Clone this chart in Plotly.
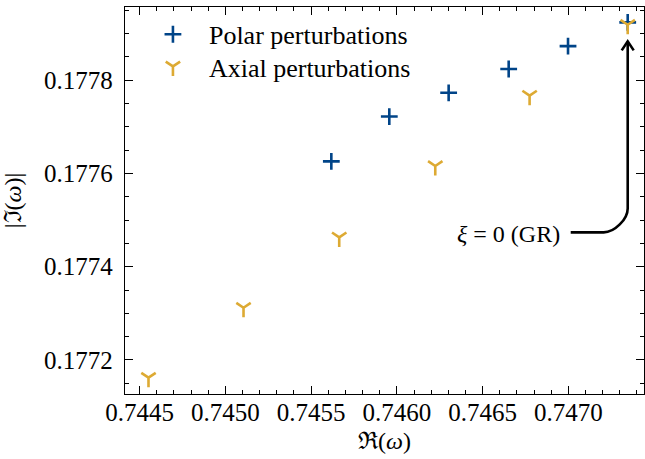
import plotly.graph_objects as go

# ---- data ----
polar_re = [0.745618, 0.745956, 0.746302, 0.746652, 0.746998, 0.747346]
polar_im = [0.177626, 0.177722, 0.177773, 0.177824, 0.177873, 0.177924]
axial_re = [0.744552, 0.745106, 0.745664, 0.746224, 0.746774, 0.747346]
axial_im = [0.177162, 0.177312, 0.177463, 0.177616, 0.177767, 0.177919]

x_ticks = [0.7445, 0.7450, 0.7455, 0.7460, 0.7465, 0.7470]
y_ticks = [0.1772, 0.1774, 0.1776, 0.1778]

X_RANGE = [0.744415, 0.747441]
Y_RANGE = [0.177127, 0.177957]

BLUE = "#004488"
GOLD = "#DDAA33"
FONT = "Liberation Serif"

W, H = 645, 459
ML, MR, MT, MB = 125, 1, 7, 65
PW, PH = W - ML - MR, H - MT - MB
dxpp = (X_RANGE[1] - X_RANGE[0]) / PW
dypp = (Y_RANGE[1] - Y_RANGE[0]) / PH

fig = go.Figure()
fig.add_trace(go.Scatter(
    x=polar_re, y=polar_im, mode="markers", name="Polar perturbations",
    legend="legend",
    marker=dict(symbol="cross-thin-open", size=12, color=BLUE,
                line=dict(width=2.6, color=BLUE)),
))
fig.add_trace(go.Scatter(
    x=axial_re, y=axial_im, mode="markers", name="Axial perturbations",
    legend="legend2",
    marker=dict(symbol="y-down-open", size=12, color=GOLD,
                line=dict(width=2.6, color=GOLD)),
))

# ---- annotation arrow to the GR point ----
gx, gy = polar_re[-1], polar_im[-1]
tip_y = gy - 19 * dypp
hy = gy - 210 * dypp
sx = gx - 57 * dxpp
r = 24
cx0 = gx - r * dxpp
cy0 = hy + r * dypp
k = 0.45
path = (f"M {sx},{hy} L {cx0},{hy} "
        f"C {cx0 + r*k*dxpp},{hy} {gx},{cy0 - r*k*dypp} {gx},{cy0} "
        f"L {gx},{tip_y}")
fig.add_shape(type="path", path=path, xref="x", yref="y",
              line=dict(color="black", width=2.6))
head = (f"M {gx - 6*dxpp},{tip_y - 9*dypp} L {gx},{tip_y} "
        f"L {gx + 6*dxpp},{tip_y - 9*dypp}")
fig.add_shape(type="path", path=head, xref="x", yref="y",
              line=dict(color="black", width=2.6))

fig.add_annotation(x=sx - 9 * dxpp, y=hy - 2 * dypp, xref="x", yref="y",
                   text="<i>ξ</i> = 0 (GR)", showarrow=False,
                   xanchor="right", yanchor="middle",
                   font=dict(family=FONT, size=24, color="black"))

axis_common = dict(
    showline=True, linecolor="black", linewidth=1.3, mirror="allticks",
    ticks="inside", ticklen=8, tickwidth=1.2, tickcolor="black",
    showgrid=False, zeroline=False, automargin=False,
    tickfont=dict(family=FONT, size=25, color="black"),
    title_font=dict(family=FONT, size=24, color="black"),
)

fig.update_xaxes(range=X_RANGE, tickvals=x_ticks, tickformat=".4f",
                 ticklabelstandoff=-4,
                 minor=dict(ticks="inside", ticklen=4, dtick=0.0001,
                            tick0=0.7445, tickwidth=1, tickcolor="black"),
                 title_text="ℜ(<i>ω</i>)", title_standoff=7, **axis_common)
fig.update_yaxes(range=Y_RANGE, tickvals=y_ticks, tickformat=".4f",
                 ticklabelstandoff=6,
                 minor=dict(ticks="inside", ticklen=4, dtick=0.00005,
                            tick0=0.1772, tickwidth=1, tickcolor="black"),
                 title_text="|ℑ(<i>ω</i>)|", title_standoff=15, **axis_common)

legend_common = dict(x=0.023, xanchor="left", yanchor="top",
                     bgcolor="rgba(0,0,0,0)", itemwidth=62,
                     font=dict(family=FONT, size=26, color="black"))

fig.update_layout(
    width=W, height=H,
    margin=dict(l=ML, r=MR, t=MT, b=MB),
    paper_bgcolor="white", plot_bgcolor="white",
    font=dict(family=FONT, size=24, color="black"),
    showlegend=True,
    legend=dict(y=0.99, **legend_common),
    legend2=dict(y=0.907, **legend_common),
)

fig.write_html("out.html",
               config={"displayModeBar": False},
               post_script="document.body.style.margin='0';"
                           "document.body.style.overflow='hidden';")
